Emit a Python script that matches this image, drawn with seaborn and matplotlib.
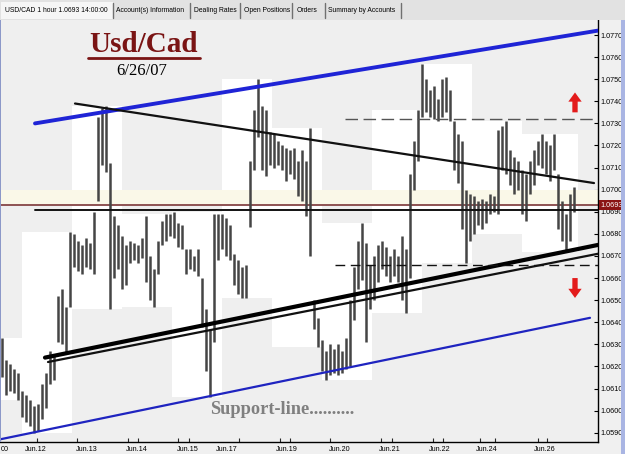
import matplotlib
matplotlib.use("Agg")
import matplotlib.pyplot as plt
import matplotlib.transforms as mtransforms
from matplotlib.patches import Rectangle
from matplotlib.lines import Line2D
import pandas as pd
import seaborn as sns

# ---------------- data (hourly-ish bars) ----------------
highs = [1.0633, 1.0623, 1.0621, 1.0619, 1.0617, 1.0609, 1.0607, 1.0605, 1.0602, 1.0603,
         1.0612, 1.0617, 1.0627, 1.0625, 1.0652, 1.0655, 1.0647, 1.0681, 1.0680, 1.0677,
         1.0675, 1.0678, 1.0676, 1.0690, 1.0733, 1.0737, 1.0738, 1.0712, 1.0688, 1.0684,
         1.0679, 1.0675, 1.0677, 1.0676, 1.0675, 1.0678, 1.0688, 1.0670, 1.0664, 1.0677,
         1.0686, 1.0689, 1.0689, 1.0690, 1.0685, 1.0684, 1.0673, 1.0673, 1.0670, 1.0673,
         1.0660, 1.0646, 1.0637, 1.0689, 1.0689, 1.0689, 1.0687, 1.0684, 1.0671, 1.0668,
         1.0665, 1.0666, 1.0713, 1.0736, 1.0750, 1.0738, 1.0736, 1.0726, 1.0725, 1.0722,
         1.0720, 1.0719, 1.0718, 1.0719, 1.0713, 1.0718, 1.0713, 1.0728, 1.0650, 1.0642,
         1.0632, 1.0627, 1.0630, 1.0628, 1.0630, 1.0627, 1.0633, 1.0650, 1.0665, 1.0677,
         1.0685, 1.0676, 1.0666, 1.0670, 1.0675, 1.0677, 1.0674, 1.0670, 1.0673, 1.0670,
         1.0679, 1.0673, 1.0707, 1.0722, 1.0736, 1.0757, 1.0750, 1.0745, 1.0747, 1.0741,
         1.0750, 1.0751, 1.0745, 1.0731, 1.0725, 1.0722, 1.0700, 1.0698, 1.0697, 1.0695,
         1.0696, 1.0695, 1.0698, 1.0697, 1.0727, 1.0729, 1.0731, 1.0718, 1.0715, 1.0713,
         1.0709, 1.0707, 1.0713, 1.0718, 1.0722, 1.0725, 1.0722, 1.0720, 1.0725, 1.0707,
         1.0695, 1.0689, 1.0698, 1.0701]
lows = [1.0615, 1.0607, 1.0609, 1.0608, 1.0605, 1.0597, 1.0595, 1.0593, 1.0590, 1.0591,
        1.0596, 1.0601, 1.0612, 1.0614, 1.0631, 1.0630, 1.0626, 1.0647, 1.0665, 1.0663,
        1.0662, 1.0665, 1.0664, 1.0662, 1.0695, 1.0711, 1.0708, 1.0646, 1.0660, 1.0664,
        1.0655, 1.0657, 1.0667, 1.0668, 1.0667, 1.0669, 1.0658, 1.0650, 1.0647, 1.0662,
        1.0675, 1.0677, 1.0679, 1.0678, 1.0674, 1.0673, 1.0662, 1.0664, 1.0663, 1.0661,
        1.0638, 1.0618, 1.0606, 1.0631, 1.0668, 1.0673, 1.0670, 1.0668, 1.0657, 1.0653,
        1.0651, 1.0651, 1.0683, 1.0709, 1.0724, 1.0709, 1.0706, 1.0711, 1.0710, 1.0711,
        1.0709, 1.0704, 1.0707, 1.0705, 1.0697, 1.0695, 1.0688, 1.0670, 1.0637, 1.0629,
        1.0618, 1.0614, 1.0616, 1.0617, 1.0616, 1.0617, 1.0619, 1.0620, 1.0641, 1.0655,
        1.0659, 1.0631, 1.0646, 1.0650, 1.0658, 1.0664, 1.0661, 1.0658, 1.0661, 1.0658,
        1.0650, 1.0644, 1.0660, 1.0700, 1.0713, 1.0733, 1.0735, 1.0733, 1.0732, 1.0731,
        1.0733, 1.0735, 1.0731, 1.0709, 1.0703, 1.0682, 1.0667, 1.0677, 1.0680, 1.0684,
        1.0682, 1.0685, 1.0689, 1.0690, 1.0689, 1.0709, 1.0707, 1.0702, 1.0698, 1.0700,
        1.0689, 1.0686, 1.0698, 1.0702, 1.0711, 1.0710, 1.0707, 1.0704, 1.0709, 1.0682,
        1.0677, 1.0672, 1.0677, 1.0690]
bar_index = list(range(len(highs)))

# session boundaries (bar index) used for the white day-range boxes
day_bounds = [-0.5, 5, 17.5, 30, 42.5, 55, 67.5, 80, 92.5, 105, 117.5, 130, 144]

x_labels = ["00", "Jun.12", "Jun.13", "Jun.14", "Jun.15", "Jun.17", "Jun.19",
            "Jun.20", "Jun.21", "Jun.22", "Jun.24", "Jun.26"]
x_label_pos = [0.75, 8.5, 21.25, 33.75, 46.5, 56.25, 71.25, 84.5, 97, 109.5, 121.25, 135.75]
x_minor_pos = [8.75, 18.75, 21.25, 31.5, 34, 44, 46.75, 56.25, 59.25, 69.5, 72, 82, 84.5,
               94.75, 97.5, 107.75, 110.25, 119.5, 123.25, 134, 136.25]
y_ticks = [1.0590, 1.0600, 1.0610, 1.0620, 1.0630, 1.0640, 1.0650, 1.0660, 1.0670, 1.0680,
           1.0690, 1.0700, 1.0710, 1.0720, 1.0730, 1.0740, 1.0750, 1.0760, 1.0770]
last_price = 1.0693

# trend lines: (x0, x1), (y0, y1)
upper_channel = ([8.25, 149], [1.0730, 1.0772])
lower_channel = ([-0.5, 147], [1.0587, 1.0642])
resistance = ([18.25, 148], [1.0739, 1.0703])
pivot_line = ([8.25, 149], [1.0691, 1.0691])
support_thick = ([10.75, 149], [1.0624, 1.0675])
support_thin = ([11.5, 149], [1.0622, 1.0671])
dash_upper = ([85.75, 149], [1.0732, 1.0732])
dash_lower = ([83.25, 149], [1.0666, 1.0666])

# ---------------- figure ----------------
sns.set_theme(style="white")
plt.rcParams['font.family'] = ['Liberation Sans', 'DejaVu Sans']

W, H = 625, 454
fig = plt.figure(figsize=(W / 100, H / 100), dpi=100)
fig.patch.set_facecolor('#F0F0F0')

ax = fig.add_axes([0, 12 / H, 598 / W, 422 / H])
ax.set_facecolor('#EFEFEF')
ax.set_xlim(-0.5, 149)
ax.set_ylim(1.05858, 1.07768)

# day range boxes
for k in range(len(day_bounds) - 1):
    a, b = day_bounds[k], day_bounds[k + 1]
    sel = [i for i in bar_index if a <= i < b]
    if not sel:
        continue
    hi = max(highs[i] for i in sel)
    lo = min(lows[i] for i in sel)
    ax.add_patch(Rectangle((a, lo), b - a, hi - lo, facecolor='white',
                           edgecolor='none', zorder=0.5))

ax.axhspan(1.0693, 1.0700, color='#FAF8E8', zorder=0.8, lw=0)
ax.axhline(last_price, color='#8E5252', lw=1.4, zorder=2)

# price bars
ax.vlines(bar_index, lows, highs, color='#454545', lw=1.8, zorder=3)


def tline(spec, color, lw, dashes=None, z=4):
    df = pd.DataFrame({'x': spec[0], 'y': spec[1]})
    sns.lineplot(data=df, x='x', y='y', ax=ax, color=color, lw=lw, zorder=z,
                 estimator=None, sort=False)
    if dashes:
        ax.lines[-1].set_dashes(dashes)


tline(upper_channel, '#1F24D6', 2.8)
tline(lower_channel, '#1F24C0', 1.6)
tline(resistance, '#111111', 1.6)
tline(pivot_line, '#111111', 1.4)
tline(support_thick, '#000000', 3.0)
tline(support_thin, '#111111', 1.6)
tline(dash_upper, '#555555', 1.0, dashes=[9, 4])
tline(dash_lower, '#111111', 1.0, dashes=[7, 4])

# red arrows
ax.annotate('', xy=(143.25, 1.0744), xytext=(143.25, 1.0735),
            arrowprops=dict(arrowstyle='simple,head_length=0.55,head_width=0.8,tail_width=0.32',
                            color='#E31B1B', lw=0, shrinkA=0, shrinkB=0), zorder=6)
ax.annotate('', xy=(143.25, 1.0651), xytext=(143.25, 1.0660),
            arrowprops=dict(arrowstyle='simple,head_length=0.55,head_width=0.8,tail_width=0.32',
                            color='#E31B1B', lw=0, shrinkA=0, shrinkB=0), zorder=6)

# axes styling
ax.set_xlabel('')
ax.set_ylabel('')
for s in ['left', 'top']:
    ax.spines[s].set_visible(False)
for s in ['right', 'bottom']:
    ax.spines[s].set_visible(True)
    ax.spines[s].set_color('black')
    ax.spines[s].set_linewidth(1.0)
ax.yaxis.tick_right()
ax.set_yticks(y_ticks)
ax.set_yticklabels([f"{v:.4f}" for v in y_ticks])
ax.tick_params(axis='y', direction='in', length=3, width=0.8, labelsize=5.2, pad=2,
               colors='black', right=True, left=False)
ax.set_xticks(x_label_pos)
ax.set_xticklabels(x_labels)
ax.set_xticks(x_minor_pos, minor=True)
ax.tick_params(axis='x', which='major', length=0, labelsize=5.2, pad=3, colors='black')
ax.tick_params(axis='x', which='minor', direction='in', length=3, width=0.8, bottom=True)
ax.grid(False)

# last price box on right axis
trans = mtransforms.blended_transform_factory(ax.transAxes, ax.transData)
ax.text(1.004, last_price, f"{last_price:.4f}", transform=trans, fontsize=5.2,
        color='white', ha='left', va='center', zorder=10, clip_on=False,
        bbox=dict(boxstyle='square,pad=0.25', facecolor='#8A1414', edgecolor='none'))

# titles / annotation text
fig.text(144 / W, 1 - 45 / H, 'Usd/Cad', fontsize=21, fontweight='bold',
         family=['Liberation Serif', 'DejaVu Serif'], color='#7A1414', ha='center', va='center')
fig.add_artist(Line2D([88 / W, 200 / W], [1 - 57.5 / H] * 2, color='#7A1414', lw=2))
fig.text(142 / W, 1 - 71 / H, '6/26/07', fontsize=12,
         family=['Liberation Serif', 'DejaVu Serif'], color='black', ha='center', va='center')
fig.text(210 / W, 1 - 409 / H, 'Support-line..........', fontsize=13.2, fontweight='bold',
         family=['Liberation Serif', 'DejaVu Serif'], color='#808080', ha='left', va='center')

# tab bar
fig.add_artist(Rectangle((0, 1 - 20 / H), 1, 20 / H, transform=fig.transFigure,
                         facecolor='#E2E2E2', edgecolor='none'))
fig.add_artist(Rectangle((1 / W, 1 - 19 / H), 112 / W, 17 / H, transform=fig.transFigure,
                         facecolor='#F6F6F6', edgecolor='none'))
for sx in [113, 190, 240, 292, 325, 401]:
    fig.add_artist(Line2D([sx / W] * 2, [1 - 18 / H, 1 - 3 / H], color='#707070', lw=1))
tabs = [("USD/CAD 1 hour 1.0693 14:00:00", 5), ("Account(s) Information", 116),
        ("Dealing Rates", 194), ("Open Positions", 244), ("Orders", 297),
        ("Summary by Accounts", 328)]
for t, tx in tabs:
    fig.text(tx / W, 1 - 10.5 / H, t, fontsize=4.9, color='black', ha='left', va='center')

# right and left frame strips
fig.add_artist(Rectangle((621 / W, 0), 4 / W, 1 - 20 / H, transform=fig.transFigure,
                         facecolor='#A9B5E3', edgecolor='none'))
fig.add_artist(Rectangle((0, 12 / H), 1.5 / W, 422 / H, transform=fig.transFigure,
                         facecolor='#8C98C8', edgecolor='none'))

fig.savefig('out.png', dpi=100, facecolor=fig.get_facecolor())
